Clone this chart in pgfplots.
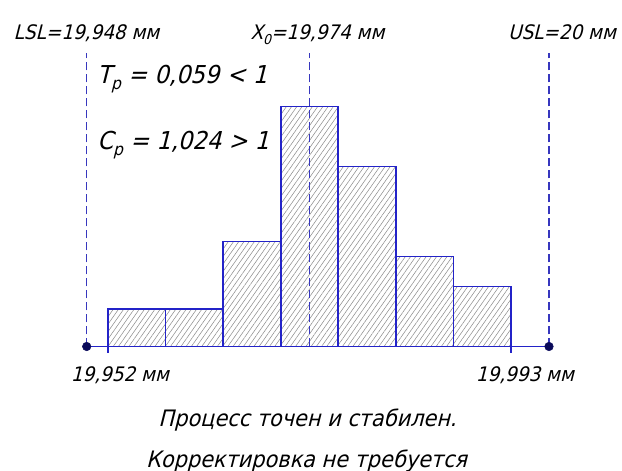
\documentclass[border=0pt]{standalone}
\usepackage{fontspec}
\setmainfont{DejaVu Sans}[FakeSlant=0.25,FakeStretch=0.92]
\usepackage{pgfplots}
\pgfplotsset{compat=1.18}
\usetikzlibrary{patterns.meta}
\definecolor{barblue}{RGB}{35,35,200}
\definecolor{dashblue}{RGB}{55,55,190}
\definecolor{dotblue}{RGB}{10,10,90}
\newcommand\sub[1]{\raisebox{-0.5ex}{\scalebox{0.68}{#1}}}
\begin{document}
\begin{tikzpicture}
\useasboundingbox (0,0) rectangle (466.5pt,353.25pt);
\begin{axis}[at={(0,0)},anchor=south west, scale only axis,
  width=466.5pt, height=353.25pt, hide axis,
  xmin=-1.876, xmax=8.928, ymin=-16.6, ymax=46.2, clip=false]
\addplot[ybar interval, draw=barblue, line width=1.2pt,
  pattern={Lines[angle=55,distance=3.2pt,line width=0.4pt]}, pattern color=gray!90]
  coordinates {(0,5)(1,5)(2,14)(3,32)(4,24)(5,12)(6,8)(7,8)};
\addplot[dashblue, dash pattern=on 6pt off 3pt, line width=1.1pt] coordinates {(-0.37,0)(-0.37,39.13)};
\addplot[dashblue, dash pattern=on 6pt off 3pt, line width=1.1pt] coordinates {(3.497,0)(3.497,39.13)};
\addplot[dashblue, dash pattern=on 6pt off 3pt, line width=1.1pt] coordinates {(7.66,0)(7.66,39.13)};
\addplot[barblue, line width=1.2pt] coordinates {(-0.37,0)(7.66,0)};
\addplot[barblue, line width=1.2pt] coordinates {(0,0)(0,-0.87)};
\addplot[barblue, line width=1.2pt] coordinates {(7,0)(7,-0.87)};
\addplot[only marks, mark=*, mark size=3.2pt, dotblue] coordinates {(-0.37,0)(7.66,0)};
\node[anchor=base] at (axis cs:-0.373,40.93) {\fontsize{15}{18}\selectfont LSL=19,948 мм};
\node[anchor=base] at (axis cs:3.639,40.93) {\fontsize{15}{18}\selectfont X\sub{0}=19,974 мм};
\node[anchor=base] at (axis cs:7.886,40.93) {\fontsize{15}{18}\selectfont USL=20 мм};
\node[anchor=base west, inner sep=0pt] at (axis cs:-0.191,35.13) {\fontsize{18.5}{22}\selectfont T\sub{p} = 0,059 < 1};
\node[anchor=base west, inner sep=0pt] at (axis cs:-0.191,26.33) {\fontsize{18.5}{22}\selectfont C\sub{p} = 1,024 > 1};
\node[anchor=base] at (axis cs:0.208,-4.73) {\fontsize{15}{18}\selectfont 19,952 мм};
\node[anchor=base] at (axis cs:7.243,-4.73) {\fontsize{15}{18}\selectfont 19,993 мм};
\node[anchor=base] at (axis cs:3.465,-10.73) {\fontsize{17}{20}\selectfont Процесс точен и стабилен.};
\node[anchor=base] at (axis cs:3.448,-16.07) {\fontsize{17}{20}\selectfont Корректировка не требуется};
\end{axis}
\end{tikzpicture}
\end{document}
